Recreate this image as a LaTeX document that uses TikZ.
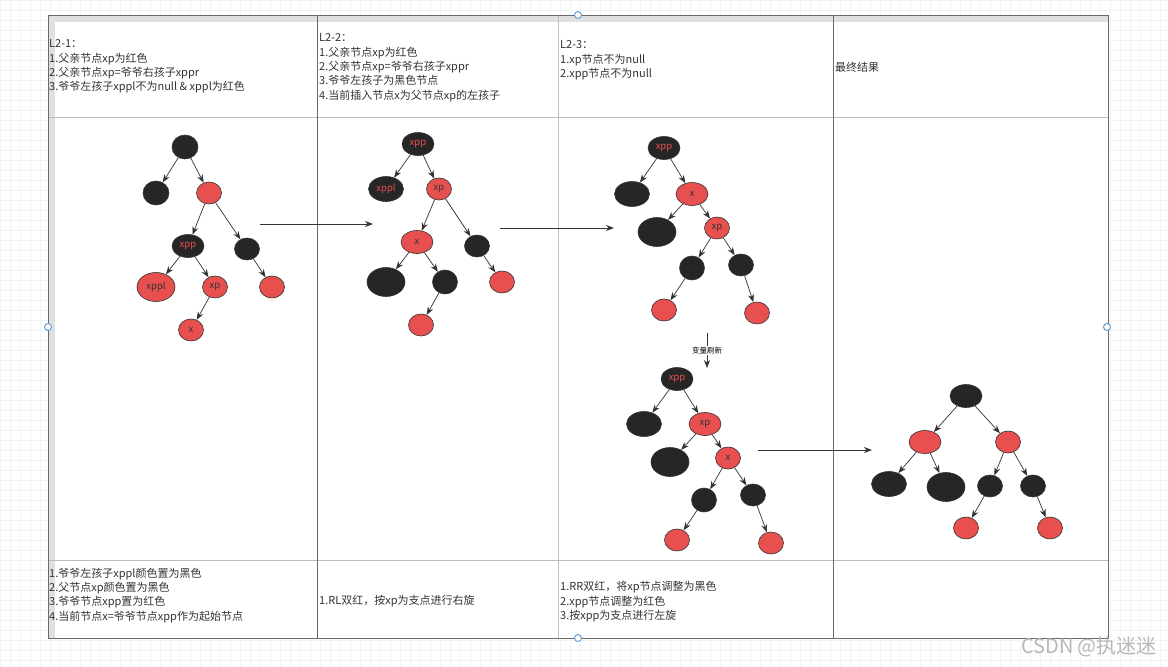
\documentclass[tikz,border=0pt]{standalone}
\usepackage{fontspec}
\setmainfont{Noto Sans CJK SC}
\usetikzlibrary{shapes.geometric,arrows.meta}
\definecolor{blk}{HTML}{262626}
\definecolor{rd}{HTML}{E85050}
\definecolor{ink}{HTML}{333333}
\definecolor{gridc}{HTML}{F3F3F3}
\definecolor{framec}{HTML}{6A6A6A}
\definecolor{rowc}{HTML}{BDBDBD}
\definecolor{handlec}{HTML}{5B9BD5}
\begin{document}
\begin{tikzpicture}[x=1pt,y=-1pt,
  nd/.style={ellipse, draw=ink, line width=0.6pt, inner sep=0pt, minimum width=25pt, minimum height=22pt, font=\fontsize{9.5}{9.5}\selectfont},
  bn/.style={nd, fill=blk, text=rd},
  rn/.style={nd, fill=rd, text=ink},
  md/.style={minimum width=32pt, minimum height=23pt},
  wd/.style={minimum width=35pt, minimum height=25pt},
  lg/.style={minimum width=38pt, minimum height=29pt},
  conn/.style={draw=ink, line width=0.7pt, -{Stealth[length=8pt,width=6pt]}},
  txt/.style={anchor=north west, inner sep=0pt, align=left, font=\fontsize{11}{14.4}\selectfont, text=ink},
  txtone/.style={anchor=west, inner sep=0pt, font=\fontsize{11}{14.4}\selectfont, text=ink},
  hdl/.style={circle, draw=handlec, fill=white, line width=0.9pt, minimum size=7pt, inner sep=0pt}
]
\useasboundingbox (0,0) rectangle (1168,667);
\fill[white] (0,0) rectangle (1168,667);
% faint editor grid
\draw[gridc, line width=0.5pt] (0,0) grid[step=10pt] (1168,667);
% table
\fill[white] (48,15) rectangle (1108,638);
\fill[black!12] (48,15) rectangle (1108,22);
\fill[black!12] (48,15) rectangle (55,638);
\draw[rowc, line width=0.7pt] (48,117) -- (1108,117);
\draw[rowc, line width=0.7pt] (48,560) -- (1108,560);
\draw[framec, line width=0.8pt] (317,15) -- (317,638);
\draw[rowc, line width=0.8pt] (558,15) -- (558,638);
\draw[framec, line width=0.8pt] (833,15) -- (833,638);
\draw[framec, line width=0.8pt] (48,15) rectangle (1108,638);

% header texts
\node[txt] (h1) at (49,39.5) {L2-1：\\1.父亲节点xp为红色\\2.父亲节点xp=爷爷右孩子xppr\\3.爷爷左孩子xppl不为null \& xppl为红色};
\node[txt] (h2) at (319,33.5) {L2-2：\\1.父亲节点xp为红色\\2.父亲节点xp=爷爷右孩子xppr\\3.爷爷左孩子为黑色节点\\4.当前插入节点x为父节点xp的左孩子};
\node[txt] (h3) at (560,40.5) {L2-3：\\1.xp节点不为null\\2.xpp节点不为null};
\node[txtone] (h4) at (835,67) {最终结果};
% footer texts
\node[txt] (f1) at (49,567.5) {1.爷爷左孩子xppl颜色置为黑色\\2.父节点xp颜色置为黑色\\3.爷爷节点xpp置为红色\\4.当前节点x=爷爷节点xpp作为起始节点};
\node[txtone] (f2) at (319,601) {1.RL双红，按xp为支点进行右旋};
\node[txt] (f3) at (560,581.5) {1.RR双红，将xp节点调整为黑色\\2.xpp节点调整为红色\\3.按xpp为支点进行左旋};

% ---- tree 1
\node[bn, minimum width=26pt, minimum height=24pt] (a0) at (185,147) {};
\node[bn, minimum width=26pt, minimum height=24pt] (a1) at (156,193) {};
\node[rn] (a2) at (209,193) {};
\node[bn, md] (a3) at (188,246) {xpp};
\node[bn] (a4) at (247,249) {};
\node[rn, lg] (a5) at (156,287) {xppl};
\node[rn] (a6) at (215,287) {xp};
\node[rn] (a7) at (272,287) {};
\node[rn] (a8) at (191,330) {x};
\draw[conn] (a0) -- (a1);
\draw[conn] (a0) -- (a2);
\draw[conn] (a2) -- (a3);
\draw[conn] (a2) -- (a4);
\draw[conn] (a3) -- (a5);
\draw[conn] (a3) -- (a6);
\draw[conn] (a4) -- (a7);
\draw[conn] (a6) -- (a8);

% ---- tree 2
\node[bn, md] (b0) at (418,144) {xpp};
\node[bn, wd] (b1) at (386,189) {xppl};
\node[rn] (b2) at (439,189) {xp};
\node[rn, md] (b3) at (417,242) {x};
\node[bn] (b4) at (477,246) {};
\node[bn, lg] (b5) at (386,282) {};
\node[bn, minimum height=24pt] (b6) at (445,282) {};
\node[rn] (b7) at (502,282) {};
\node[rn] (b8) at (421,325) {};
\draw[conn] (b0) -- (b1);
\draw[conn] (b0) -- (b2);
\draw[conn] (b2) -- (b3);
\draw[conn] (b2) -- (b4);
\draw[conn] (b3) -- (b5);
\draw[conn] (b3) -- (b6);
\draw[conn] (b4) -- (b7);
\draw[conn] (b6) -- (b8);

% ---- tree 3
\node[bn, md] (c0) at (664,148) {xpp};
\node[bn, wd] (c1) at (632,194) {};
\node[rn, md] (c2) at (692,194) {x};
\node[bn, lg] (c3) at (657,232) {};
\node[rn] (c4) at (717,228) {xp};
\node[bn, minimum height=24pt] (c5) at (692,268) {};
\node[bn] (c6) at (741,265) {};
\node[rn] (c7) at (664,310) {};
\node[rn] (c8) at (757,313) {};
\draw[conn] (c0) -- (c1);
\draw[conn] (c0) -- (c2);
\draw[conn] (c2) -- (c3);
\draw[conn] (c2) -- (c4);
\draw[conn] (c4) -- (c5);
\draw[conn] (c4) -- (c6);
\draw[conn] (c5) -- (c7);
\draw[conn] (c6) -- (c8);

% ---- tree 4
\node[bn, md] (d0) at (677,379) {xpp};
\node[bn, wd] (d1) at (644,424) {};
\node[rn, md] (d2) at (705,424) {xp};
\node[bn, lg] (d3) at (670,462) {};
\node[rn] (d4) at (728,458) {x};
\node[bn, minimum height=24pt] (d5) at (704,500) {};
\node[bn] (d6) at (753,495) {};
\node[rn] (d7) at (677,540) {};
\node[rn] (d8) at (771,543) {};
\draw[conn] (d0) -- (d1);
\draw[conn] (d0) -- (d2);
\draw[conn] (d2) -- (d3);
\draw[conn] (d2) -- (d4);
\draw[conn] (d4) -- (d5);
\draw[conn] (d4) -- (d6);
\draw[conn] (d5) -- (d7);
\draw[conn] (d6) -- (d8);

% ---- tree 5 (final)
\node[bn, md] (e0) at (966,396) {};
\node[rn, md] (e1) at (925,442) {};
\node[rn] (e2) at (1008,442) {};
\node[bn, wd] (e3) at (889,484) {};
\node[bn, lg] (e4) at (946,487) {};
\node[bn] (e5) at (990,486) {};
\node[bn] (e6) at (1033,486) {};
\node[rn] (e7) at (966,528) {};
\node[rn] (e8) at (1050,528) {};
\draw[conn] (e0) -- (e1);
\draw[conn] (e0) -- (e2);
\draw[conn] (e1) -- (e3);
\draw[conn] (e1) -- (e4);
\draw[conn] (e2) -- (e5);
\draw[conn] (e2) -- (e6);
\draw[conn] (e5) -- (e7);
\draw[conn] (e6) -- (e8);

% ---- step arrows
\coordinate (s1a) at (260,224);
\coordinate (s1b) at (373,224);
\coordinate (s2a) at (500,228);
\coordinate (s2b) at (614,228);
\coordinate (s3a) at (707,333);
\coordinate (s3b) at (707,368);
\coordinate (s4a) at (758,450);
\coordinate (s4b) at (872,450);
\draw[conn] (s1a) -- (s1b);
\draw[conn] (s2a) -- (s2b);
\draw[conn] (s3a) -- node[fill=white, inner sep=1pt, text=black, font=\fontsize{7.5}{7.5}\selectfont] (lbl) {变量刷新} (s3b);
\draw[conn] (s4a) -- (s4b);

% selection handles
\node[hdl] (k1) at (578,15) {};
\node[hdl] (k2) at (48,327) {};
\node[hdl] (k3) at (1107,327) {};
\node[hdl] (k4) at (578,638) {};

% watermark
\node[text=black!28, font=\fontsize{20}{20}\selectfont, inner sep=0pt] (wm) at (1089,647) {CSDN @执迷迷};
\end{tikzpicture}
\end{document}
